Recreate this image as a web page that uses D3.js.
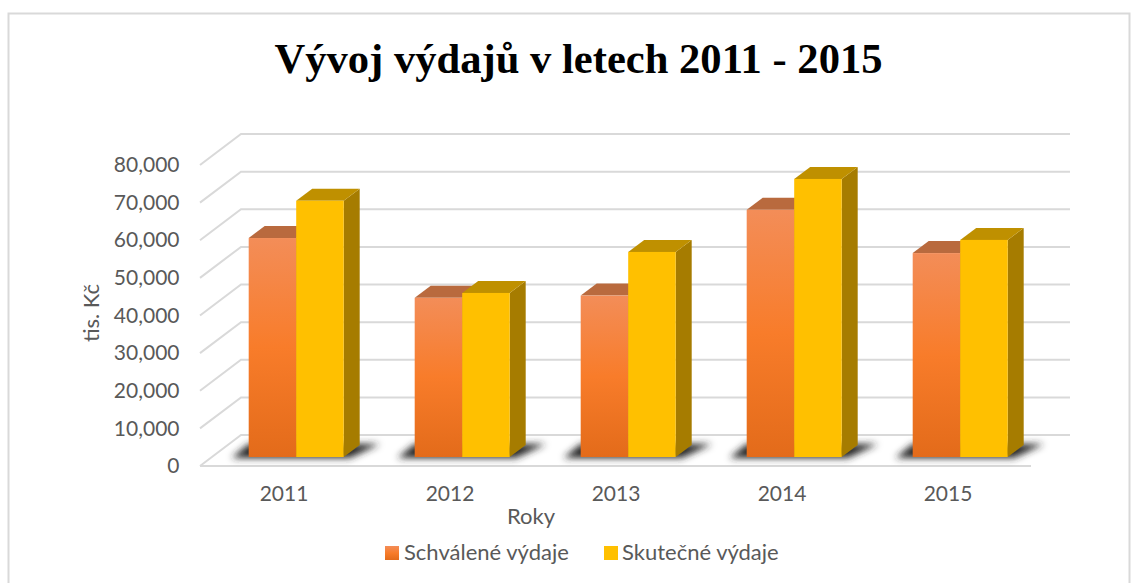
<!DOCTYPE html>
<html><head><meta charset="utf-8">
<script src="https://cdnjs.cloudflare.com/ajax/libs/d3/7.8.5/d3.min.js"></script>
<style>html,body{margin:0;background:#fff}svg{display:block}
text{font-family:"Lato","Open Sans",sans-serif;fill:#595959}</style></head><body>
<svg id="c" width="1138" height="583"></svg>
<script>
const categories = ["2011","2012","2013","2014","2015"];
const schvalene = [58200,42300,42900,65700,54200];
const skutecne = [68100,43600,54500,73900,57700];
const seriesNames = ["Schválené výdaje","Skutečné výdaje"];
const yTicks = [0,10000,20000,30000,40000,50000,60000,70000,80000];
const titleText = "Vývoj výdajů v letech 2011 - 2015";

const svg = d3.select("#c");
const defs = svg.append("defs");
const grad = defs.append("linearGradient").attr("id","og").attr("x1",0).attr("x2",0).attr("y1",0).attr("y2",1);
[[0,"#F38D58"],[0.5,"#F87C2A"],[1,"#E36B1A"]].forEach(s=>grad.append("stop").attr("offset",s[0]).attr("stop-color",s[1]));
defs.append("filter").attr("id","blur").attr("x","-30%").attr("y","-100%").attr("width","160%").attr("height","300%")
  .append("feGaussianBlur").attr("stdDeviation",3.5);

svg.append("rect").attr("x",8.5).attr("y",13.5).attr("width",1121).attr("height",590)
  .attr("fill","#fff").attr("stroke","#d9d9d9").attr("stroke-width",2);

svg.append("text").attr("x",578.5).attr("y",73).attr("text-anchor","middle")
  .style("font-family","'Liberation Serif',serif").style("font-weight","bold").style("font-size","42.6px").style("fill","#000")
  .text(titleText);

// front plane scales
const x = d3.scaleBand().domain(categories).range([200,1030]);
const y = d3.scaleLinear().domain([0,80000]).range([466,165]);
const wallDx = 41, wallDy = -31;      // front floor edge to back wall
const midDx = 13.2, midDy = -9;       // front floor edge to bar front face
const depthDx = 16, depthDy = -12;    // bar depth
const barW = 47.5;

// gridlines on wall + side
const grid = svg.append("g").attr("fill","none").attr("stroke","#d9d9d9").attr("stroke-width",2);
yTicks.forEach(t=>{
  const yy = y(t);
  grid.append("path").attr("d",`M${x.range()[0]},${yy}L${x.range()[0]+wallDx},${yy+wallDy}L${1070},${yy+wallDy}`);
});
grid.append("line").attr("x1",200).attr("x2",1031).attr("y1",y(0)).attr("y2",y(0));

// shadows
const shadow = svg.append("g");
categories.forEach(c=>{
  const l = x(c)+x.bandwidth()/2+midDx-barW, r = l+2*barW, b = y(0)+midDy+1;
  shadow.append("path").attr("filter","url(#blur)").attr("fill","#262626")
    .attr("d",`M${l-17},${b}L${r+6},${b}L${r+36},${b-14}L${r},${b-14}L${l},${b-14}Z`);
});

function drawBar(g,c,v,left,front,top,side){
  const yT = y(v)+midDy, yB = y(0)+midDy, r = left+barW;
  g.append("path").attr("fill",side).attr("d",`M${r},${yT}L${r+depthDx},${yT+depthDy}L${r+depthDx},${yB+depthDy}L${r},${yB}Z`);
  g.append("path").attr("fill",top).attr("d",`M${left},${yT}L${left+depthDx},${yT+depthDy}L${r+depthDx},${yT+depthDy}L${r},${yT}Z`);
  g.append("rect").attr("x",left).attr("y",yT).attr("width",barW).attr("height",yB-yT).attr("fill",front);
}
const bars = svg.append("g");
categories.forEach((c,i)=>{
  const mid = x(c)+x.bandwidth()/2+midDx;
  drawBar(bars,c,schvalene[i],mid-barW,"url(#og)","#B96A3E","#A85A22");
  drawBar(bars,c,skutecne[i],mid,"#FFC000","#BF9000","#A67C00");
});

// axes
const yAxis = d3.axisLeft(y).tickValues(yTicks).tickSize(0).tickPadding(0).tickFormat(d3.format(","));
const gy = svg.append("g").attr("transform","translate(179.5,0)").call(yAxis);
gy.select(".domain").remove();
gy.selectAll("text").style("font-size","21px").style("fill","#595959").attr("x",0);

const xAxis = d3.axisBottom(x).tickSize(0).tickPadding(0);
const gx = svg.append("g").attr("transform","translate(1,486)").call(xAxis);
gx.select(".domain").remove();
gx.selectAll("text").style("font-size","21px").style("fill","#595959");

svg.append("text").attr("x",531).attr("y",524).attr("text-anchor","middle").style("font-size","22px").text("Roky");
svg.append("text").attr("transform","translate(99,313) rotate(-90)").attr("text-anchor","middle").style("font-size","22px").text("tis. Kč");

// legend
const lg = svg.append("g");
[[385,404,"url(#og)"],[604,622,"#FFC000"]].forEach((d,i)=>{
  lg.append("rect").attr("x",d[0]).attr("y",546).attr("width",14).attr("height",14).attr("fill",d[2]);
  lg.append("text").attr("x",d[1]).attr("y",560).style("font-size","22px").text(seriesNames[i]);
});
</script></body></html>
